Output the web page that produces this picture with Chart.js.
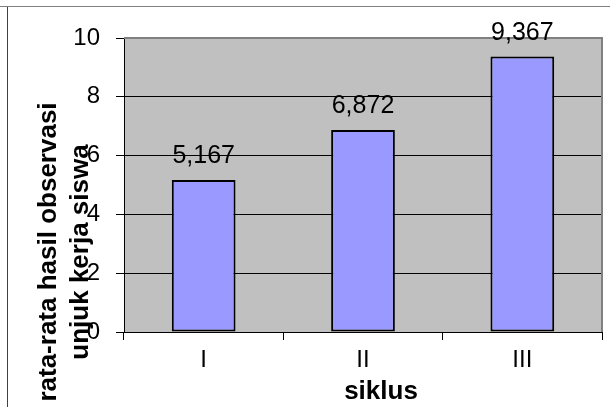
<!DOCTYPE html>
<html><head><meta charset="utf-8">
<script src="https://cdn.jsdelivr.net/npm/chart.js@4/dist/chart.umd.min.js"></script>
<style>html,body{margin:0;padding:0;background:#fff}canvas{display:block}</style>
</head><body>
<canvas id="c" width="610" height="407"></canvas>
<script>
const categories = ['I', 'II', 'III'];
const values = [5.167, 6.872, 9.367];
const valueLabels = ['5,167', '6,872', '9,367'];
const yMin = 0, yMax = 10, yStep = 2;
const yTitleLines = ['rata-rata hasil observasi', 'unjuk kerja siswa'];
const xTitle = 'siklus';

const FONT = "'Liberation Sans', Arial, sans-serif";

const decor = {
  id: 'decor',
  beforeDraw(chart) {
    const ctx = chart.ctx, a = chart.chartArea;
    ctx.save();
    ctx.fillStyle = '#fff';
    ctx.fillRect(0, 0, chart.width, chart.height);
    // outer frame (top and left visible)
    ctx.strokeStyle = '#808080';
    ctx.lineWidth = 1;
    ctx.beginPath(); ctx.moveTo(0, 6.5); ctx.lineTo(chart.width, 6.5); ctx.stroke();
    ctx.strokeStyle = '#404040';
    ctx.beginPath(); ctx.moveTo(7.5, 7); ctx.lineTo(7.5, chart.height); ctx.stroke();
    // plot background
    ctx.fillStyle = '#C0C0C0';
    ctx.fillRect(a.left, a.top, a.right - a.left, a.bottom - a.top);
    ctx.restore();
  },
  afterDraw(chart) {
    const ctx = chart.ctx, a = chart.chartArea;
    ctx.save();
    // plot area gray border top & right
    ctx.strokeStyle = '#808080';
    ctx.lineWidth = 2;
    ctx.beginPath();
    ctx.moveTo(a.left, a.top); ctx.lineTo(a.right, a.top); ctx.lineTo(a.right, a.bottom);
    ctx.stroke();
    // value labels
    ctx.fillStyle = '#000';
    ctx.font = '25px ' + FONT;
    ctx.textAlign = 'center';
    ctx.textBaseline = 'alphabetic';
    const meta = chart.getDatasetMeta(0);
    meta.data.forEach((bar, i) => {
      ctx.fillText(valueLabels[i], bar.x, bar.y - 17);
    });
    // x title
    ctx.font = 'bold 26px ' + FONT;
    ctx.fillText(xTitle, 381, 399);
    // y title (rotated, two lines)
    const cy = 252;
    const xs = [56, 88];
    yTitleLines.forEach((line, i) => {
      ctx.save();
      ctx.translate(xs[i], cy);
      ctx.rotate(-Math.PI / 2);
      ctx.fillText(line, 0, 0);
      ctx.restore();
    });
    ctx.restore();
  }
};

new Chart(document.getElementById('c'), {
  type: 'bar',
  data: {
    labels: categories,
    datasets: [{
      data: values,
      backgroundColor: '#9999FF',
      borderColor: '#000',
      borderWidth: 2,
      borderSkipped: false,
      barPercentage: 0.4,
      categoryPercentage: 1.0
    }]
  },
  options: {
    responsive: false,
    animation: false,
    devicePixelRatio: 1,
    layout: { padding: { left: 0, top: 38, right: 8, bottom: 0 } },
    plugins: { legend: { display: false }, tooltip: { enabled: false } },
    scales: {
      x: {
        grid: { display: true, drawOnChartArea: false, drawTicks: true, tickLength: 8, color: '#000', offset: true },
        border: { display: true, color: '#000', width: 1 },
        ticks: { color: '#000', font: { family: FONT, size: 24 }, padding: 6, maxRotation: 0 },
        afterFit(s) { s.height = 75; }
      },
      y: {
        min: yMin, max: yMax,
        grid: {
          color: (c) => (c.tick && c.tick.value === yMax) ? '#808080' : '#000',
          tickColor: '#000',
          tickLength: 8,
          lineWidth: 1
        },
        border: { display: true, color: '#000', width: 1 },
        ticks: { stepSize: yStep, color: '#000', font: { family: FONT, size: 24 }, padding: 16 },
        afterFit(s) { s.width = 124; }
      }
    }
  },
  plugins: [decor]
});
</script>
</body></html>
